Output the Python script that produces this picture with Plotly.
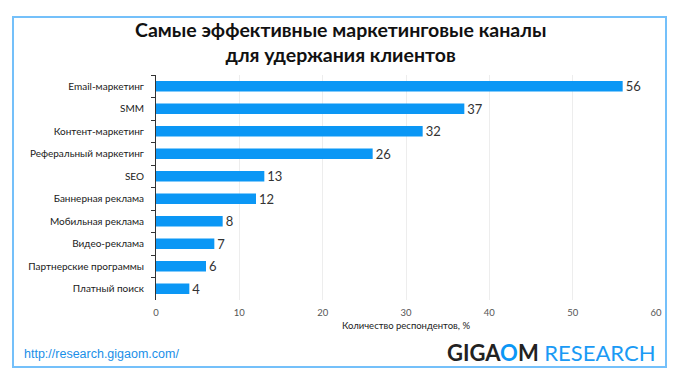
import plotly.graph_objects as go

categories = ["Email-маркетинг", "SMM", "Контент-маркетинг", "Реферальный маркетинг", "SEO",
              "Баннерная реклама", "Мобильная реклама", "Видео-реклама",
              "Партнерские программы", "Платный поиск"]
values = [56, 37, 32, 26, 13, 12, 8, 7, 6, 4]
x_ticks = [0, 10, 20, 30, 40, 50, 60]

OFF = 8  # page body margin offset
W, H = 679, 383
L, R, T, B = 156 - OFF, 679 - 656 + OFF, 75 - OFF, 383 - 300 + OFF
pw, ph = W - L - R, H - T - B

def px(x):
    return (x - OFF - L) / pw

def py(y):
    return (H - B - (y - OFF)) / ph

fig = go.Figure(go.Bar(
    x=values, y=categories, orientation="h",
    marker=dict(color="#0b97f5", line=dict(width=0)),
    width=0.46,
    text=[str(v) for v in values], textposition="outside", constraintext="none",
    textfont=dict(family="Lato, sans-serif", size=13, color="#333"),
    cliponaxis=False,
))

fig.update_layout(
    width=W, height=H, margin=dict(l=L, r=R, t=T, b=B),
    paper_bgcolor="white", plot_bgcolor="white", showlegend=False,
    bargap=0.5,
)
fig.update_xaxes(range=[0, 60], tickvals=x_ticks, showgrid=True, gridcolor="#ededed",
                 gridwidth=1, zeroline=False, showline=False, ticks="",
                 ticklabelstandoff=5,
                 tickfont=dict(family="Lato, sans-serif", size=9.5, color="#555"),
                 title=dict(text="Количество респондентов, %",
                            font=dict(family="Lato, sans-serif", size=9.5, color="#222"),
                            standoff=5))
fig.update_yaxes(autorange="reversed", showline=True, linecolor="#333", linewidth=1,
                 ticks="outside", ticklen=4, tickcolor="#333", tickson="boundaries",
                 showgrid=False,
                 tickfont=dict(family="Lato, sans-serif", size=10, color="#1a1a1a"),
                 ticklabelstandoff=9)

fig.add_shape(type="rect", xref="paper", yref="paper",
              x0=px(13), x1=px(666), y0=py(367), y1=py(17),
              line=dict(color="#74c0fa", width=2), layer="below")

fig.add_annotation(xref="paper", yref="paper", x=px(340), y=py(42), xanchor="center", yanchor="middle",
                   text="<b>Самые эффективные маркетинговые каналы<br>для удержания клиентов</b>",
                   showarrow=False, font=dict(family="Lato, sans-serif", size=19.5, color="#111"))
fig.add_annotation(xref="paper", yref="paper", x=px(22), y=py(354), xanchor="left", yanchor="middle",
                   text="http://research.gigaom.com/", showarrow=False,
                   font=dict(family="Liberation Sans, Arial, sans-serif", size=12.5, color="#1a8fe8"))
fig.add_annotation(xref="paper", yref="paper", x=px(657), y=py(352), xanchor="right", yanchor="middle",
                   text="<b>GIGA<span style='color:#0b97f5'>O</span>M</b> <span style='color:#1a9af5'>RESEARCH</span>",
                   showarrow=False, font=dict(family="Lato, sans-serif", size=22, color="#222"))

fig.write_html("out.html")
